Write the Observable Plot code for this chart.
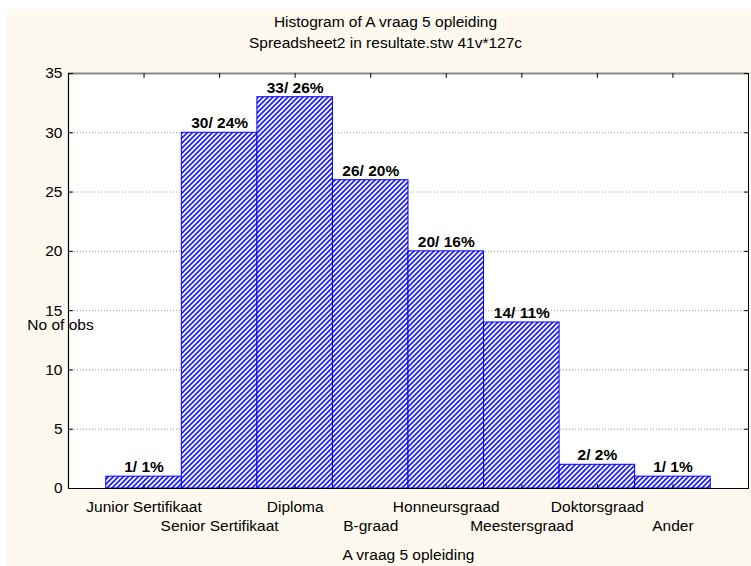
<!DOCTYPE html>
<html>
<head>
<meta charset="utf-8">
<script src="https://cdn.jsdelivr.net/npm/d3@7"></script>
<script src="https://cdn.jsdelivr.net/npm/@observablehq/plot@0.6"></script>
<style>
  html, body { margin: 0; padding: 0; background: #ffffff; }
  #wrap { position: relative; width: 751px; height: 566px; overflow: hidden; }
  #cream { position: absolute; left: 7px; top: 9px; right: 0; bottom: 0; background: #FDF9EE; }
  #chart { position: absolute; left: 0; top: 0; }
</style>
</head>
<body>
<div id="wrap"><div id="cream"></div><div id="chart"></div></div>
<script>
const titleText = "Histogram of A vraag 5 opleiding";
const subtitleText = "Spreadsheet2 in resultate.stw 41v*127c";
const xLabel = "A vraag 5 opleiding";
const yLabel = "No of obs";
const categories = ["Junior Sertifikaat", "Senior Sertifikaat", "Diploma", "B-graad", "Honneursgraad", "Meestersgraad", "Doktorsgraad", "Ander"];
const counts = [1, 30, 33, 26, 20, 14, 2, 1];
const percents = [1, 24, 26, 20, 16, 11, 2, 1];
const yTicks = [0, 5, 10, 15, 20, 25, 30, 35];

const data = categories.map((c, i) => ({c, i, n: counts[i], p: percents[i]}));
const centers = data.map(d => d.i + 0.5);
const FS = 15.5;

const tickShape = {draw(context, l) { context.moveTo(0, 0); context.lineTo(0, -l); }};

const svg = Plot.plot({
  width: 751,
  height: 566,
  marginLeft: 68,
  marginRight: 3,
  marginTop: 73,
  marginBottom: 78,
  style: {background: "transparent", fontFamily: "'Liberation Sans', Arial, sans-serif", fontSize: FS + "px", color: "#000"},
  x: {domain: [-0.5, categories.length + 0.5], axis: null},
  y: {domain: [0, 35], axis: null},
  marks: [
    Plot.frame({fill: "white", stroke: "none"}),
    Plot.gridY(yTicks.filter(v => v > 0 && v < 35), {stroke: "#9a9a9a", strokeOpacity: 1, strokeDasharray: "1,2"}),
    Plot.rectY(data, {x1: "i", x2: d => d.i + 1, y: "n", fill: "url(#hatch)", stroke: "#0000ff", strokeWidth: 1}),
    Plot.text(data, {x: d => d.i + 0.5, y: "n", text: d => `${d.n}/ ${d.p}%`, dy: -9.5, fontWeight: "bold", fontSize: FS, fill: "#000"}),
    Plot.frame({stroke: "#000", strokeWidth: 1}),
    Plot.ruleY([35], {stroke: "#888", strokeWidth: 2}),
    Plot.ruleY([0], {stroke: "#000", strokeWidth: 1.2}),
    Plot.ruleX([-0.5], {stroke: "#000", strokeWidth: 1.2}),
    // inward ticks
    Plot.vector(centers, {x: d => d, frameAnchor: "bottom", length: 4, rotate: 0, anchor: "start", shape: tickShape, stroke: "#000", strokeWidth: 1}),
    Plot.vector(centers, {x: d => d, frameAnchor: "top", length: 4, rotate: 180, anchor: "start", shape: tickShape, stroke: "#000", strokeWidth: 1}),
    Plot.vector(yTicks, {y: d => d, frameAnchor: "left", length: 4, rotate: 90, anchor: "start", shape: tickShape, stroke: "#000", strokeWidth: 1}),
    Plot.vector(yTicks, {y: d => d, frameAnchor: "right", length: 4, rotate: -90, anchor: "start", shape: tickShape, stroke: "#000", strokeWidth: 1}),
    Plot.axisY({ticks: yTicks, tickSize: 0, tickPadding: 6, fontSize: FS, label: null, tickFormat: d => `${d}`}),
    // category labels, alternating rows
    Plot.text(data.filter(d => d.i % 2 === 0), {x: d => d.i + 0.5, text: "c", frameAnchor: "bottom", dy: 19, lineAnchor: "middle", fontSize: FS, fill: "#000"}),
    Plot.text(data.filter(d => d.i % 2 === 1), {x: d => d.i + 0.5, text: "c", frameAnchor: "bottom", dy: 38, lineAnchor: "middle", fontSize: FS, fill: "#000"}),
    Plot.text([xLabel], {text: d => d, frameAnchor: "bottom", dy: 67, lineAnchor: "middle", fontSize: FS, fill: "#000"}),
    Plot.text([yLabel], {text: d => d, frameAnchor: "left", dx: -8, dy: 44.5, textAnchor: "middle", lineAnchor: "middle", fontSize: FS, fill: "#000"}),
    Plot.text([titleText], {text: d => d, frameAnchor: "top", dx: -23, dy: -51, lineAnchor: "middle", fontSize: FS, fill: "#000"}),
    Plot.text([subtitleText], {text: d => d, frameAnchor: "top", dx: -23, dy: -30, lineAnchor: "middle", fontSize: FS, fill: "#000"})
  ]
});

const defs = d3.select(svg).insert("defs", ":first-child");
const pat = defs.append("pattern").attr("id", "hatch").attr("patternUnits", "userSpaceOnUse").attr("width", 5).attr("height", 5);
pat.append("rect").attr("width", 5).attr("height", 5).attr("fill", "white");
pat.append("path").attr("d", "M-1,1 L1,-1 M0,5 L5,0 M4,6 L6,4").attr("stroke", "#2020ff").attr("stroke-width", 1.8).attr("fill", "none");

document.getElementById("chart").appendChild(svg);
</script>
</body>
</html>
